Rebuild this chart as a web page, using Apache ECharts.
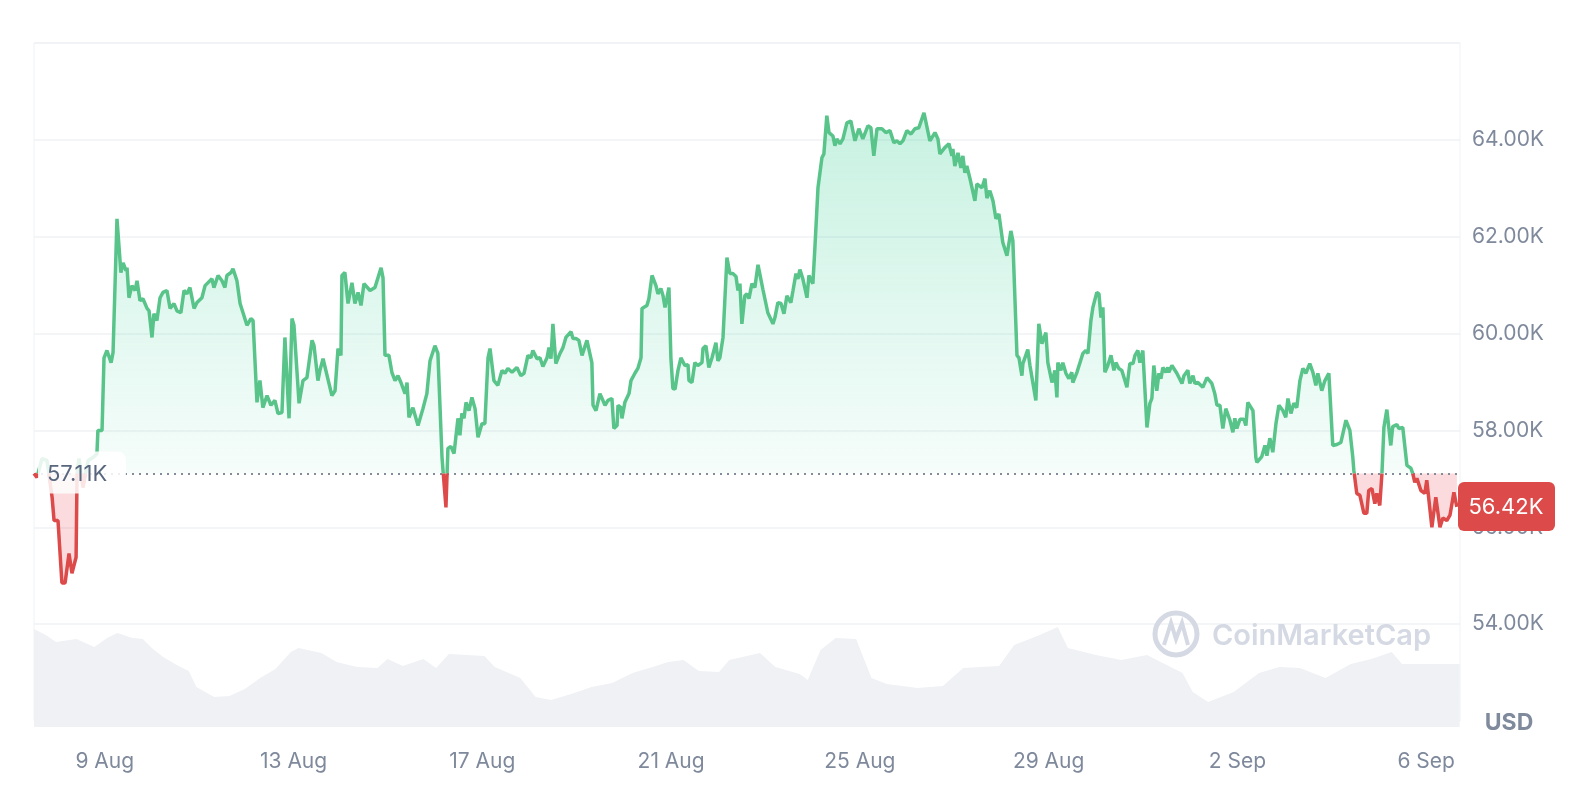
<!DOCTYPE html>
<html><head><meta charset="utf-8">
<script src="https://cdn.jsdelivr.net/npm/echarts@6/dist/echarts.min.js"></script>
<style>html,body{margin:0;padding:0;background:#fff}#c{width:1590px;height:795px}</style>
</head><body><div id="c"></div>
<script>
// hours since 7 Aug 12:00
const priceHours = [0,1.5,4.1,6.6,9.2,10.2,12.2,14.2,15.8,17.8,19.3,21.4,21.9,22.9,24.9,27.5,30,32,32.5,34.6,35.6,37.1,39.2,40.2,42.2,44.2,45.3,46.8,47.3,48.3,49.8,51.4,52.4,53.9,55.4,57.5,58.5,60,61,62.5,64.1,65.6,67.6,69.2,71.2,72.7,74.7,76.3,77.8,79.3,81.4,82.9,85.4,87,90.5,91.5,93.6,95.6,97.1,98.1,100.2,101.2,103.2,104.8,106.3,108.3,110.3,111.4,113.4,114.9,116.4,118.5,120.5,122.5,124.1,126.1,127.6,129.7,131.2,132.2,134.8,136.8,138.8,141.4,142.4,144.4,145.4,147,151.5,153.1,154.6,156.1,156.6,158.1,159.7,161.7,163.2,164.8,166.3,167.8,170.9,173.4,174.4,176.5,177.5,178.5,180.5,182,183.6,185.1,186.6,188.7,189.7,190.7,192.7,195.3,197.8,199.8,201.4,203.9,205.4,
207.5,209.5,210.5,212,213.6,214.6,215.6,216.6,217.6,218.7,219.7,221.2,222.7,224.3,225.8,227.8,229.3,230.9,231.9,233.9,235.9,238,239.5,241,243.1,245.6,247.6,249.2,251.2,252.7,253.7,255.8,257.3,258.8,260.9,261.9,262.9,263.9,265.4,267.5,269,270.5,271.5,273.1,274.1,275.6,277.1,278.7,281.2,283.7,284.3,285.8,287.8,288.8,290.4,291.9,293.9,294.9,296.5,297,298.5,299,300.5,302.6,303.6,305.6,307.1,308.7,309.2,311.7,312.7,314.3,316.3,317.3,318.8,319.9,320.9,321.9,322.9,323.9,324.9,326,327.5,329,331,332.6,333.1,334.6,336.1,337.6,339.7,340.2,341.7,343.2,344.8,346.8,347.8,348.8,350.4,351.4,352.4,353.9,355.4,357,358,359,360,361.5,362.6,363.6,365.1,366.6,368.2,369.2,370.7,371.7,373.2,375.8,376.8,378.3,379.9,381.4,382.9,383.4,384.9,386,387.5,388.5,389.5,391,393.1,394.1,396.1,397.1,398.7,400.7,401.7,403.2,404.3,406.3,407.3,408.3,409.9,411.4,413.4,415.4,417.5,419.5,421.5,424.1,425.6,427.1,428.7,431.2,433.2,435.3,437.3,438.8,440.4,441.9,443.9,446,448,450,452.6,455.6,458.2,459.7,460.7,463.2,465.3,466.8,467.3,468.3,469.9,471.4,472.4,473.4,474.4,476,478.5,479.5,482.1,483.6,484.6,486.1,487.7,489.2,490.7,492.7,494.8,496.8,497.8,499.9,500.9,502.4,502.9,503.9,505.4,506.5,507.5,509.5,511,512.6,514.6,515.6,517.7,519.2,520.2,520.7,522.2,523.2,524.8,526.3,527.8,528.3,530.4,531.4,533.4,534.9,536,537.5,538.5,540.5,541.6,542.6,543.6,544.6,546.1,547.7,549.2,550.2,551.7,553.2,554.8,555.8,557.3,558.9,559.9,561.4,562.4,563.9,566,567.5,568.5,569.5,571,572.1,573.1,574.1,575.6,576.6,577.1,578.7,581.2,583.8,584.8,586.8,587.8,589.4,590.4,591.9,594.4,596.5,599,600.5,601.6,603.1,604.6,606.1,608.2,609.7,610.7,611.7,613.3,615.3,616.3,617.3,619.9,621.4,621.9,624.4,626,627,628.5,630,631.6,633.1,635.1,636.6,637.7,639.2,640.7,642.2,643.8,645.3,646.8,648.8,650.4,651.9,652.9,654.9,656.5,658.5,660.5,662.6,664.6,667.2,669.2,670.7,671.2,672.7,674.3,676.3,677.8,678.8,680.4,681.9,682.9,684.4,685.5,686.5,688,690,691,693.1,694.1,696.1,698.2,700.2,701.2,702.2,703.3,705.3,707.3,708.3,710.9,712.9,715,716.5,718.5,720.1,722.1,723.6];
const priceValues = [57110,57030,57420,57380,56620,56140,56140,54850,54850,55460,55050,55380,57110,57420,56820,57380,57440,57520,58000,58000,59500,59650,59400,59610,62370,61260,61460,61300,61360,60740,60990,60890,61090,60680,60720,60520,60470,59920,60410,60270,60740,60850,60890,60520,60620,60470,60430,60890,60820,60950,60520,60640,60740,60990,61130,60950,61200,61090,60950,61200,61260,61340,61090,60620,60430,60170,60310,60270,58580,59030,58470,58720,58520,58620,58350,58370,59920,58250,60310,60170,58560,59030,59090,59860,59750,59030,59240,59480,58720,58820,59690,59550,61200,61260,60620,61050,60620,60850,60580,61030,60890,60950,60910,61360,61150,59550,59550,59200,59030,59130,58990,58760,58990,58270,58470,58100,58450,58760,59440,59750,59590,
57440,56410,57630,57670,57520,57550,58250,57900,58350,58250,58580,58410,58680,58450,57860,58140,58140,59500,59690,59030,58930,59240,59180,59280,59200,59300,59130,59180,59550,59500,59650,59480,59500,59320,59500,59710,59480,60200,59380,59590,59710,59920,59960,60040,59900,59900,59860,59550,59860,59400,58520,58410,58760,58780,58520,58620,58660,58040,58100,58520,58470,58250,58580,58760,59030,59180,59280,59500,60520,60580,60720,61200,60990,60820,60930,60780,60540,60740,60950,59500,58870,58850,59240,59500,59340,59360,59030,58990,59400,59340,59400,59690,59750,59300,59500,59810,59440,59500,59920,59960,61570,61240,61240,61180,60890,61030,60200,60780,60820,60720,61030,60950,61420,61400,60910,60890,60430,60200,60330,60640,60620,60410,60780,60820,60640,60890,61240,61130,61320,61130,60740,61200,61030,61750,63010,63630,63710,64500,64150,64080,63880,64020,63920,64020,64350,64390,63980,64230,64020,64290,64250,63670,64230,64230,64150,64190,63940,63980,63920,63980,64190,64120,64230,64250,64560,63980,64150,64020,63710,63840,63920,63670,63810,63460,63730,63420,63670,63320,63460,63200,62740,63090,63010,63200,62800,62950,62740,62370,62470,61880,61610,62120,61920,59550,59500,59130,59380,59340,59670,59340,59300,58620,60200,59790,60020,59400,58990,59240,58680,59400,59240,59400,59180,59070,59200,58990,59200,59240,59590,59650,59590,60270,60540,60850,60820,60330,60540,59200,59340,59550,59240,59400,59280,59240,59030,58890,59380,59380,59550,59650,59400,59650,58060,58560,58660,59340,58820,59180,59070,59300,59200,59300,59200,59340,59180,58970,59130,59240,58970,59130,58970,58990,58890,59090,58970,58760,58520,58520,58040,58450,58210,57960,58250,58040,58230,58230,58100,58580,58410,57440,57340,57460,57690,57480,57840,57550,58140,58520,58410,58270,58660,58350,58560,58470,59030,59280,59180,59380,59200,58930,59180,58820,59030,59180,57690,57710,57750,58210,58000,57440,57180,56700,56660,56290,56290,56760,56800,56490,56700,56450,57110,58060,58430,57690,58080,58120,58040,58060,57280,57220,57110,56930,57010,56760,56700,56970,56000,56620,56000,56190,56140,56250,56720,56420];
const baseValue = 57110;
const lastValue = 56420;
const volumeHours = [0,6,11.2,21.6,30.7,37.2,42.4,50.1,55.3,60.5,65.7,73.5,78.7,82.6,91.6,99.4,107.2,115,122.8,130.6,134.5,146.1,153.9,164.3,174.7,179.8,187.6,198,204.5,211,229.1,234.3,247.3,255.1,262.9,273.2,283.6,294,304.4,314.7,322.5,330.3,338.1,348.4,353.6,369.2,377,389.4,393.5,400,407.7,418.1,425.9,433.7,449.3,462.2,472.6,490.8,498.5,511.5,520.6,525.8,540,553,566,584.1,589.3,597.1,610.1,623,633.4,643.8,656.8,669.7,680.1,690.5,695.7,708.7,725];
const volumeValues = [98,92,85,88,80,89,94,89,88,78,70,61,56,40,30,31,38,49,58,75,79,74,65,60,59,68,61,68,59,73,71,60,49,30,27,33,40,44,54,60,65,67,56,55,67,74,60,53,47,77,89,88,49,43,39,41,59,61,82,92,100,79,72,67,72,54,35,25,35,54,60,59,49,63,68,75,63,63,63];
const xTickHours = [36,132,228,324,420,516,612,708];
const xTickLabels = ['9 Aug','13 Aug','17 Aug','21 Aug','25 Aug','29 Aug','2 Sep','6 Sep'];
const yTickValues = [54000,56000,58000,60000,62000,64000];

const GREEN='#58c48a', RED='#dc4a4a';
// split the line where it crosses the baseline
const pts = [];
for (let i=0;i<priceHours.length;i++){
  if (i>0){
    const a=priceValues[i-1], b=priceValues[i];
    if ((a-baseValue)*(b-baseValue)<0){
      const t=priceHours[i-1]+(priceHours[i]-priceHours[i-1])*(baseValue-a)/(b-a);
      pts.push([t,baseValue]);
    }
  }
  pts.push([priceHours[i],priceValues[i]]);
}
const upLine = pts.map(p=>p[1]>=baseValue?p:[p[0],null]);
const dnLine = pts.map(p=>p[1]<=baseValue?p:[p[0],null]);
const upArea = pts.map(p=>[p[0],Math.max(p[1],baseValue)]);
const dnArea = pts.map(p=>[p[0],Math.min(p[1],baseValue)]);
const volData = volumeHours.map((h,i)=>[h,volumeValues[i]]);
const X_MAX = 725.2;
const lab = {color:'#7f899c',fontSize:21,fontFamily:'Inter, Roboto, sans-serif'};

const chart = echarts.init(document.getElementById('c'));
chart.setOption({
  animation:false,
  grid:[{left:34,right:130,top:43,bottom:74,show:true,borderColor:'#eff2f5',borderWidth:1},
        {left:34,right:130,top:627,bottom:68}],
  xAxis:[{type:'value',gridIndex:0,min:0,max:X_MAX,axisLine:{show:false},axisTick:{show:false},splitLine:{show:false},
          axisLabel:Object.assign({},lab,{customValues:xTickHours,margin:30,formatter:v=>xTickLabels[xTickHours.indexOf(v)]||''})},
         {type:'value',gridIndex:1,min:0,max:X_MAX,show:false}],
  yAxis:[{type:'value',gridIndex:0,position:'right',min:52000,max:66000,interval:2000,axisLine:{show:false},axisTick:{show:false},
          splitLine:{lineStyle:{color:'#eff2f5',width:1.5}},
          axisLabel:Object.assign({},lab,{margin:12,formatter:v=>yTickValues.includes(v)?(v/1000).toFixed(2)+'K':''})},
         {type:'value',gridIndex:1,min:0,max:100,show:false}],
  series:[
    {type:'line',xAxisIndex:1,yAxisIndex:1,data:volData,symbol:'none',lineStyle:{width:0},areaStyle:{color:'#eff1f5',opacity:1},z:1},
    {type:'line',data:upArea,symbol:'none',lineStyle:{width:0},z:2,
      areaStyle:{origin:baseValue,opacity:1,color:new echarts.graphic.LinearGradient(0,0,0,1,[{offset:0,color:'rgba(22,199,132,0.24)'},{offset:1,color:'rgba(22,199,132,0.04)'}])},
      markLine:{silent:true,symbol:'none',label:{show:false},lineStyle:{type:[2,5],color:'#858c99',width:2},data:[{yAxis:baseValue}]}},
    {type:'line',data:dnArea,symbol:'none',lineStyle:{width:0},z:2,
      areaStyle:{origin:baseValue,opacity:1,color:'rgba(234,57,67,0.18)'}},
    {type:'line',data:upLine,symbol:'none',connectNulls:false,lineStyle:{width:3.5,color:GREEN},z:4},
    {type:'line',data:dnLine,symbol:'none',connectNulls:false,lineStyle:{width:3.5,color:RED},z:5}
  ]
});
const yb = chart.convertToPixel({gridIndex:0},[0,baseValue])[1];
const yl = chart.convertToPixel({gridIndex:0},[0,lastValue])[1];
chart.setOption({graphic:[
  {type:'rect',shape:{x:38,y:yb-22,width:88,height:42,r:8},style:{fill:'rgba(255,255,255,0.85)'},z:100},
  {type:'text',x:47,y:yb+1,style:{text:'57.11K',fill:'#58667e',font:'22px Inter, Roboto, sans-serif',verticalAlign:'middle'},z:101},
  {type:'rect',shape:{x:1458,y:yl-25,width:97,height:49,r:6},style:{fill:RED},z:100},
  {type:'text',x:1506,y:yl,style:{text:'56.42K',fill:'#fff',font:'22px Inter, Roboto, sans-serif',align:'center',verticalAlign:'middle'},z:101},
  {type:'text',x:1509,y:723,style:{text:'USD',fill:'#808a9d',font:'bold 23px Inter, Roboto, sans-serif',align:'center',verticalAlign:'middle'},z:101},
  {type:'circle',shape:{cx:1176,cy:634,r:21},style:{fill:'none',stroke:'#d5d9e3',lineWidth:5},z:50},
  {type:'polyline',shape:{points:[[1164,645],[1171,623],[1176,639],[1182,623],[1188,645]]},style:{fill:'none',stroke:'#d5d9e3',lineWidth:4},z:51},
  {type:'text',x:1212,y:636,style:{text:'CoinMarketCap',fill:'#d5d9e3',font:'600 29px Inter, Roboto, sans-serif',verticalAlign:'middle'},z:50}
]});
</script></body></html>
